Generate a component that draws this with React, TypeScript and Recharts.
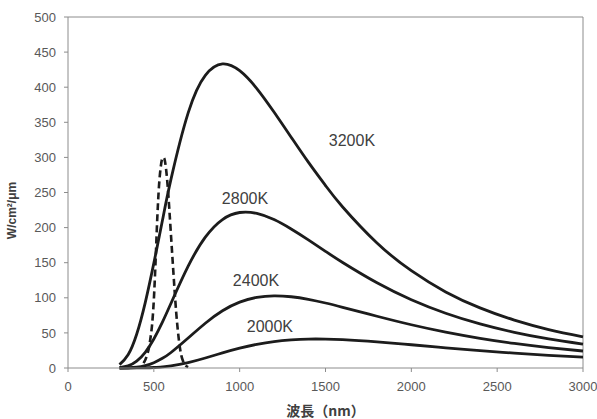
import { LineChart, Line, XAxis, YAxis, ReferenceLine, ReferenceDot } from "recharts";

// wavelength grid (nm) for the blackbody curves
const wavelengths = [300, 350, 400, 450, 500, 550, 600, 700, 800, 900, 1000, 1100, 1200, 1300, 1400, 1500, 1600, 1800, 2000, 2200, 2400, 2600, 2800, 3000];

const k3200 = [4.8, 18.8, 48.1, 93.2, 149.4, 210, 269, 363.5, 416.9, 433.2, 423.5, 398.1, 364.6, 328.8, 293.2, 259.9, 229.4, 178.1, 138.6, 108.4, 85.6, 68.2, 54.8, 44.5];
const k2800 = [0.6, 3.0, 9.7, 22.3, 41.3, 65.3, 92.2, 145, 186.4, 211.5, 221.5, 220.2, 211.4, 198, 182.5, 166.2, 150.3, 121.4, 97.3, 78, 62.8, 50.8, 41.4, 34];
const k2400 = [0, 0.3, 1.1, 3.3, 7.5, 13.8, 22.1, 42.7, 63.8, 81.5, 93.8, 100.6, 102.8, 101.5, 97.8, 92.6, 86.5, 73.7, 61.6, 51.1, 42.3, 35, 29.1, 24.2];
const k2000 = [0, 0, 0.1, 0.2, 0.7, 1.6, 3.0, 7.7, 14.2, 21.5, 28.2, 33.7, 37.7, 40, 41.2, 41.2, 40.4, 37.2, 33.1, 28.8, 24.8, 21.2, 18.1, 15.5];

// visual sensitivity (dashed)
const visWavelengths = [440, 450, 460, 470, 480, 490, 500, 510, 520, 530, 540, 550, 555, 560, 570, 580, 590, 600, 610, 620, 630, 640, 650, 660, 670, 680, 690, 700];
const visValues = [7, 11.4, 18, 27, 42, 62, 97, 151, 213, 259, 286, 299, 300, 299, 286, 261, 227, 189, 151, 114, 80, 53, 32, 18, 10, 5, 2.5, 1.2];

const xTicks = [0, 500, 1000, 1500, 2000, 2500, 3000];
const yTicks = [0, 50, 100, 150, 200, 250, 300, 350, 400, 450, 500];

const curves = [
  { name: "3200K", values: k3200, labelAt: [1654, 325] },
  { name: "2800K", values: k2800, labelAt: [1031, 242] },
  { name: "2400K", values: k2400, labelAt: [1095, 125] },
  { name: "2000K", values: k2000, labelAt: [1176, 60] },
];

const toRows = (xs: number[], ys: number[]) => xs.map((x, i) => ({ x, y: ys[i] }));

const tickStyle = { fontSize: 13, fill: "#595959", fontFamily: "Liberation Sans, Arial, sans-serif" };
const lineColor = "#1c1c1c";

export default function App() {
  return (
    <div style={{ background: "#fff" }}>
      <style>{`body{margin:0}`}</style>
      <LineChart width={597} height={419} margin={{ top: 17, right: 14, bottom: 0, left: 0 }}>
        <XAxis
          type="number"
          dataKey="x"
          domain={[0, 3000]}
          ticks={xTicks}
          tick={tickStyle}
          tickSize={4}
          tickMargin={10}
          stroke="#8c8c8c"
          height={51}
          label={{
            value: "波長（nm）",
            position: "insideBottom",
            offset: 3,
            style: { fontSize: 14, fontWeight: 700, fill: "#404040", fontFamily: "Noto Sans CJK JP, sans-serif" },
          }}
        />
        <YAxis
          type="number"
          domain={[0, 500]}
          ticks={yTicks}
          tick={tickStyle}
          tickSize={4}
          tickMargin={8}
          stroke="#8c8c8c"
          width={68}
          label={{
            value: "W/cm²/μm",
            angle: -90,
            position: "insideLeft",
            offset: 12,
            dy: 18,
            style: { fontSize: 12, fontWeight: 700, fill: "#404040", fontFamily: "Liberation Sans, Arial, sans-serif", textAnchor: "middle" },
          }}
        />
        <ReferenceLine y={500} stroke="#8c8c8c" />
        <ReferenceLine x={3000} stroke="#8c8c8c" />
        {curves.map((c) => (
          <Line
            key={c.name}
            data={toRows(wavelengths, c.values)}
            dataKey="y"
            type="natural"
            stroke={lineColor}
            strokeWidth={2.8}
            dot={false}
            isAnimationActive={false}
          />
        ))}
        <Line
          data={toRows(visWavelengths, visValues)}
          dataKey="y"
          type="monotone"
          stroke={lineColor}
          strokeWidth={2.6}
          strokeDasharray="7 4"
          dot={false}
          isAnimationActive={false}
        />
        {curves.map((c) => (
          <ReferenceDot
            key={c.name + "-label"}
            x={c.labelAt[0]}
            y={c.labelAt[1]}
            r={0}
            fill="none"
            stroke="none"
            label={{
              value: c.name,
              position: "center",
              style: { fontSize: 16, fill: "#404040", fontFamily: "Liberation Sans, Arial, sans-serif" },
            }}
          />
        ))}
      </LineChart>
    </div>
  );
}
